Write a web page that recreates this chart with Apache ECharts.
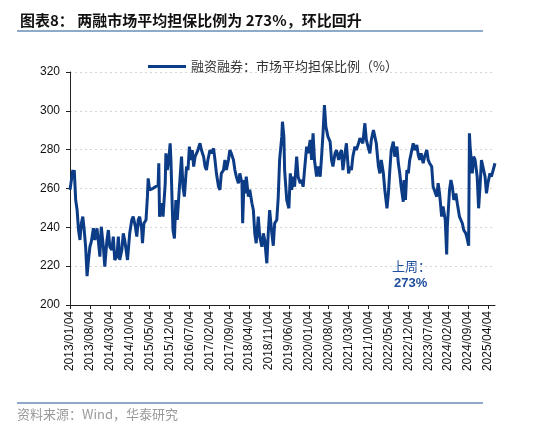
<!DOCTYPE html>
<html>
<head>
<meta charset="utf-8">
<script src="https://cdn.jsdelivr.net/npm/echarts@6/dist/echarts.min.js"></script>
<style>
html,body{margin:0;padding:0;background:#fff;}
#c{width:550px;height:433px;}
</style>
</head>
<body>
<div id="c"></div>
<script>
var titleText = '图表8： 两融市场平均担保比例为 273%，环比回升';
var seriesName = '融资融券：市场平均担保比例（%）';
var sourceText = '资料来源：Wind，华泰研究';
var noteLine1 = '上周：';
var noteLine2 = '273%';

var tickLabels = ['2013/01/04','2013/08/04','2014/03/04','2014/10/04','2015/05/04','2015/12/04','2016/07/04','2017/02/04','2017/09/04','2018/04/04','2018/11/04','2019/06/04','2020/01/04','2020/08/04','2021/03/04','2021/10/04','2022/05/04','2022/12/04','2023/07/04','2024/02/04','2024/09/04','2025/04/04'];
var axisEndDate = '2025/06/19';

var dates = ['2013-01-04','2013-02-04','2013-02-11','2013-02-19','2013-03-04','2013-03-19','2013-04-04','2013-04-19','2013-05-04','2013-05-19','2013-06-04','2013-06-19','2013-07-04','2013-07-19','2013-08-04','2013-08-19','2013-09-11','2013-09-26','2013-10-19','2013-11-04','2013-11-19','2013-12-04','2013-12-26',
'2014-01-11','2014-02-04','2014-02-19','2014-03-04','2014-03-26','2014-04-11','2014-04-26','2014-05-19','2014-06-04','2014-06-19','2014-07-11','2014-07-26','2014-08-11','2014-09-11','2014-10-04','2014-10-26','2014-11-11','2014-12-04','2014-12-19',
'2015-01-04','2015-01-19','2015-02-11','2015-02-19','2015-03-04','2015-03-26','2015-04-11','2015-04-19','2015-05-04','2015-06-11','2015-08-04','2015-08-11','2015-08-19','2015-09-11','2015-09-26','2015-10-19','2015-10-26','2015-11-11','2015-11-26','2015-12-11','2015-12-19',
'2016-01-04','2016-01-11','2016-01-26','2016-02-11','2016-02-26','2016-03-19','2016-04-11','2016-04-26','2016-05-11','2016-05-26','2016-06-04','2016-06-19','2016-07-04','2016-07-19','2016-08-04','2016-08-19','2016-09-04','2016-09-19','2016-10-04','2016-10-26','2016-11-11','2016-12-04','2016-12-19',
'2017-01-04','2017-01-19','2017-02-11','2017-02-26','2017-03-19','2017-04-04','2017-04-19','2017-05-11','2017-05-26','2017-06-11','2017-07-04','2017-07-19','2017-08-04','2017-08-26','2017-09-11','2017-09-26','2017-10-19','2017-11-04','2017-11-19','2017-12-11','2017-12-26',
'2018-01-19','2018-01-26','2018-02-11','2018-02-19','2018-03-04','2018-03-26','2018-04-11','2018-05-04','2018-05-19','2018-06-04','2018-06-19','2018-07-11','2018-07-26','2018-08-19','2018-09-04','2018-09-19','2018-10-11','2018-10-26','2018-11-11','2018-12-04','2018-12-19',
'2019-01-04','2019-01-26','2019-02-11','2019-02-26','2019-03-19','2019-03-26','2019-04-11','2019-04-19','2019-05-11','2019-06-04','2019-06-19','2019-07-04','2019-07-19','2019-08-04','2019-08-26','2019-09-11','2019-10-04','2019-10-19','2019-11-04','2019-11-19','2019-12-11','2019-12-26',
'2020-01-19','2020-02-04','2020-02-19','2020-03-04','2020-03-26','2020-04-11','2020-05-04','2020-05-19','2020-06-04','2020-06-19','2020-07-04','2020-07-19','2020-07-26','2020-08-19','2020-09-04','2020-09-19','2020-10-11','2020-10-26','2020-11-19','2020-12-04','2020-12-19',
'2021-01-04','2021-01-26','2021-02-11','2021-03-04','2021-03-19','2021-04-04','2021-04-19','2021-05-11','2021-05-26','2021-06-19','2021-07-04','2021-07-19','2021-08-04','2021-08-26','2021-09-11','2021-10-04','2021-10-19','2021-11-04','2021-11-26','2021-12-11','2021-12-26',
'2022-01-19','2022-02-04','2022-02-19','2022-03-11','2022-03-26','2022-04-19','2022-05-04','2022-05-19','2022-06-04','2022-06-26','2022-07-11','2022-08-04','2022-08-19','2022-09-04','2022-09-19','2022-10-11','2022-10-19','2022-11-04','2022-11-19','2022-12-04','2022-12-19',
'2023-01-04','2023-01-26','2023-02-11','2023-03-04','2023-03-19','2023-04-04','2023-04-19','2023-05-11','2023-05-26','2023-06-19','2023-07-04','2023-07-19','2023-08-11','2023-08-26','2023-09-11','2023-10-04','2023-10-19','2023-11-04','2023-11-26','2023-12-11',
'2024-01-04','2024-01-19','2024-01-26','2024-02-19','2024-03-04','2024-03-19','2024-04-04','2024-04-26','2024-05-11','2024-06-04','2024-06-19','2024-07-04','2024-07-19','2024-08-11','2024-08-26','2024-09-11','2024-09-19','2024-09-26','2024-10-04','2024-10-19','2024-11-04','2024-11-19','2024-12-11','2024-12-26',
'2025-01-11','2025-01-26','2025-02-11','2025-03-04','2025-03-19','2025-04-04','2025-04-26','2025-05-11','2025-05-26','2025-06-19'];

var ratios = [259.3,269.5,267,269.5,254.1,248.9,238.6,233.5,242.1,245.5,238.6,230,214.9,223.2,230,232.6,239.5,233.5,239.5,232.6,224.9,240.3,230,
219.7,233.5,238.6,230,228.3,235.2,223.2,224.9,235.2,223.2,228.3,236.9,233.5,223.2,236.9,243.8,245.5,240.3,235.2,
243.8,245.5,238.6,231.8,242.1,243.8,255.8,265.2,259.3,260.1,261.8,273,245.5,252.4,245.5,262.7,278.1,269.5,274.7,283.3,274.7,
248.9,238.6,234.3,254.1,243.8,261,276.4,261,255.8,266.1,271.3,269.5,281.6,274.7,279.8,271.3,276.4,278.1,279.8,283.3,279.8,276.4,271.3,
269.5,274.7,279.8,278.1,280.7,274.7,267.8,261,259.3,267.8,269.5,274.7,269.5,274.7,279.8,278.1,274.7,269.5,266.1,262.7,267.8,
262.7,242.1,264.4,257.5,266.1,255.8,259.3,252.4,248.9,236.9,231.8,245.5,235.2,230,236.9,233.5,221.5,236.9,248.9,236.9,230.5,
242.1,243.8,255,274.7,286.7,294.4,286.7,269.5,254.1,249.8,267.8,259.3,266.1,260.9,276.4,266.1,262.7,264.4,260.9,269.5,281.6,278.1,
285,274.7,288.4,274.7,266.1,271.3,266.1,276.4,288.4,303,291.9,292.7,286.7,284.1,274.7,271.3,278.1,279.8,274.7,278.1,279.8,
269.5,278.1,283.3,267.8,271.3,269.5,276.4,281.6,279.8,283.3,285.9,285,283.3,293.6,285,280.7,278.1,285,290.1,286.7,283.3,
271.3,267.8,274.7,267.8,259.3,249.8,257.5,269.5,279.8,284.1,276.4,281.6,273,267.8,260.9,253.2,264.4,254.1,269.5,267.8,274.7,
278.1,283.3,279.8,282.4,277.3,274.7,278.1,273,276.4,279.8,274.7,273,271.3,260.9,261.8,255.8,262.7,257.5,245.5,250.7,
243.8,226,240.3,259.3,264.4,260.9,254.1,257.5,252.4,245.5,246.4,242.1,238.6,236.9,234,230.5,288.4,282,281.6,267.8,276.4,274.7,266.1,249.8,
260.9,274.7,271.3,266.1,257.5,262.7,267.8,266.1,267,273];

var yMin = 200, yMax = 320, yStep = 20;

// month offset from 2013/01/04
function monthOffset(s) {
  var p = s.split(/[-\/]/).map(Number);
  return (p[0] - 2013) * 12 + (p[1] - 1) + (p[2] - 4) / 30;
}
var tickValues = tickLabels.map(monthOffset);
var labelMap = {};
tickLabels.forEach(function (l, i) { labelMap[tickValues[i].toFixed(3)] = l; });
var seriesData = dates.map(function (d, i) { return [monthOffset(d), ratios[i]]; });

var chart = echarts.init(document.getElementById('c'));
var cjk = '"Noto Sans CJK SC", "Liberation Sans", sans-serif';
var latin = '"Liberation Sans", Arial, sans-serif';
var navy = '#0D3C87';

chart.setOption({
  backgroundColor: '#fff',
  animation: false,
  title: {
    text: titleText,
    left: 15, top: 8,
    textStyle: { fontFamily: cjk, fontSize: 15, fontWeight: 'bold', color: '#111' }
  },
  legend: {
    left: 143, top: 55,
    icon: 'rect', itemWidth: 38, itemHeight: 3, itemGap: 4,
    textStyle: { fontFamily: cjk, fontSize: 13, color: '#333' },
    data: [seriesName]
  },
  grid: { left: 70, right: 55, top: 72, bottom: 128, containLabel: false },
  xAxis: {
    type: 'value',
    min: 0,
    max: monthOffset(axisEndDate),
    axisLine: { show: true, lineStyle: { color: '#222', width: 1 } },
    axisTick: { show: true, length: 4, inside: false, customValues: tickValues, lineStyle: { color: '#222' } },
    axisLabel: {
      customValues: tickValues,
      rotate: 90,
      margin: 6,
      fontFamily: latin, fontSize: 12, color: '#111',
      formatter: function (v) { return labelMap[v.toFixed(3)] || ''; }
    },
    splitLine: { show: false }
  },
  yAxis: {
    type: 'value',
    min: yMin, max: yMax, interval: yStep,
    axisLine: { show: true, lineStyle: { color: '#222', width: 1 } },
    axisTick: { show: true, length: 4, inside: false, lineStyle: { color: '#222' } },
    axisLabel: { fontFamily: latin, fontSize: 12, color: '#111', margin: 10 },
    splitLine: { show: true, lineStyle: { color: '#D6D6D6', type: [2, 3], width: 1 } }
  },
  series: [{
    name: seriesName,
    type: 'line',
    data: seriesData,
    symbol: 'none',
    lineStyle: { color: navy, width: 3 },
    itemStyle: { color: navy },
    z: 3
  }],
  graphic: [
    { type: 'line', shape: { x1: 17, y1: 31, x2: 483, y2: 31 }, style: { stroke: '#8FA9C9', lineWidth: 2 } },
    { type: 'line', shape: { x1: 17, y1: 403, x2: 483, y2: 403 }, style: { stroke: '#8FA9C9', lineWidth: 2 } },
    { type: 'text', left: 17, top: 408, style: { text: sourceText, font: '13px ' + cjk, fill: '#9A9A9A' } },
    { type: 'text', left: 392, top: 260, style: { text: noteLine1, font: '13px ' + cjk, fill: '#1F4E9C' } },
    { type: 'text', left: 394, top: 277, style: { text: noteLine2, font: 'bold 13px ' + latin, fill: '#1F4E9C' } }
  ]
});
</script>
</body>
</html>
